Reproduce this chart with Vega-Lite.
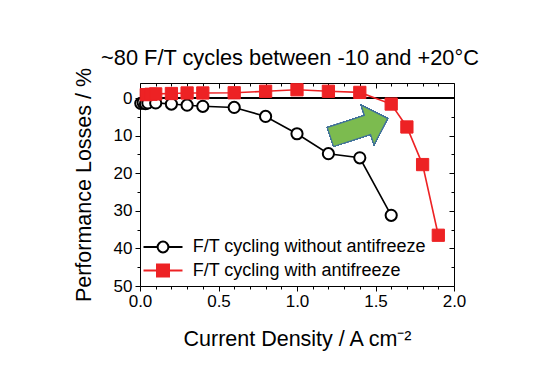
{
  "$schema": "https://vega.github.io/schema/vega-lite/v6.json",
  "autosize": {"type": "none"},
  "width": 314,
  "height": 203,
  "padding": {"left": 140, "top": 83, "right": 90, "bottom": 105},
  "background": "white",
  "title": {
    "text": "~80 F/T cycles between -10 and +20°C",
    "font": "Liberation Sans",
    "fontSize": 21.8,
    "fontWeight": "normal",
    "color": "black",
    "anchor": "middle",
    "dx": -7,
    "offset": -2
  },
  "data": {
    "values": [
      {"j": 0.005, "loss": 1.4, "series": "F/T cycling without antifreeze"},
      {"j": 0.02, "loss": 1.2, "series": "F/T cycling without antifreeze"},
      {"j": 0.035, "loss": 1.5, "series": "F/T cycling without antifreeze"},
      {"j": 0.05, "loss": 1.3, "series": "F/T cycling without antifreeze"},
      {"j": 0.1, "loss": 1.3, "series": "F/T cycling without antifreeze"},
      {"j": 0.2, "loss": 1.6, "series": "F/T cycling without antifreeze"},
      {"j": 0.3, "loss": 1.9, "series": "F/T cycling without antifreeze"},
      {"j": 0.4, "loss": 2.2, "series": "F/T cycling without antifreeze"},
      {"j": 0.6, "loss": 2.5, "series": "F/T cycling without antifreeze"},
      {"j": 0.8, "loss": 4.9, "series": "F/T cycling without antifreeze"},
      {"j": 1.0, "loss": 9.5, "series": "F/T cycling without antifreeze"},
      {"j": 1.2, "loss": 14.8, "series": "F/T cycling without antifreeze"},
      {"j": 1.4, "loss": 15.9, "series": "F/T cycling without antifreeze"},
      {"j": 1.6, "loss": 31.2, "series": "F/T cycling without antifreeze"},
      {"j": 0.04, "loss": -0.9, "series": "F/T cycling with antifreeze"},
      {"j": 0.07, "loss": -1.0, "series": "F/T cycling with antifreeze"},
      {"j": 0.1, "loss": -1.1, "series": "F/T cycling with antifreeze"},
      {"j": 0.2, "loss": -1.2, "series": "F/T cycling with antifreeze"},
      {"j": 0.3, "loss": -1.35, "series": "F/T cycling with antifreeze"},
      {"j": 0.4, "loss": -1.35, "series": "F/T cycling with antifreeze"},
      {"j": 0.6, "loss": -1.4, "series": "F/T cycling with antifreeze"},
      {"j": 0.8, "loss": -1.8, "series": "F/T cycling with antifreeze"},
      {"j": 1.0, "loss": -2.2, "series": "F/T cycling with antifreeze"},
      {"j": 1.2, "loss": -1.8, "series": "F/T cycling with antifreeze"},
      {"j": 1.4, "loss": -1.5, "series": "F/T cycling with antifreeze"},
      {"j": 1.6, "loss": 1.6, "series": "F/T cycling with antifreeze"},
      {"j": 1.7, "loss": 7.7, "series": "F/T cycling with antifreeze"},
      {"j": 1.8, "loss": 17.7, "series": "F/T cycling with antifreeze"},
      {"j": 1.9, "loss": 36.5, "series": "F/T cycling with antifreeze"}
    ]
  },
  "resolve": {"axis": {"x": "independent", "y": "independent"}},
  "layer": [
    {
      "mark": {"type": "rule", "color": "black", "strokeWidth": 1},
      "encoding": {
        "y": {"datum": 0, "type": "quantitative", "axis": null}
      }
    },
    {
      "mark": {"type": "line", "strokeWidth": 1.6},
      "encoding": {
        "x": {
          "field": "j", "type": "quantitative",
          "scale": {"domain": [0, 2], "nice": false, "zero": false},
          "axis": {
            "orient": "bottom",
            "title": "Current Density / A cm⁻²",
            "values": [0, 0.1, 0.2, 0.3, 0.4, 0.5, 0.6, 0.7, 0.8, 0.9, 1.0, 1.1, 1.2, 1.3, 1.4, 1.5, 1.6, 1.7, 1.8, 1.9, 2.0],
            "labelExpr": "abs(datum.value*2 - round(datum.value*2)) < 0.001 ? format(datum.value, '.1f') : ''",
            "tickSize": {"condition": {"test": "abs(datum.value*2 - round(datum.value*2)) < 0.001", "value": 5}, "value": 3},
            "labelPadding": 2,
            "titlePadding": 19,
            "labelFlush": false,
            "labelOverlap": false
          }
        },
        "y": {
          "field": "loss", "type": "quantitative",
          "scale": {"domain": [-4, 50], "nice": false, "zero": false, "reverse": true},
          "axis": {
            "orient": "left",
            "title": "Performance Losses / %",
            "values": [0, 5, 10, 15, 20, 25, 30, 35, 40, 45, 50],
            "labelExpr": "datum.value % 10 === 0 ? datum.label : ''",
            "tickSize": {"condition": {"test": "datum.value % 10 === 0", "value": 5}, "value": 3},
            "labelPadding": 3,
            "titlePadding": 18,
            "labelOverlap": false
          }
        },
        "stroke": {
          "field": "series", "type": "nominal",
          "scale": {
            "domain": ["F/T cycling without antifreeze", "F/T cycling with antifreeze"],
            "range": ["black", "#ed2224"]
          },
          "legend": {
            "title": null,
            "orient": "none",
            "legendX": 14,
            "legendY": 155,
            "padding": 0,
            "symbolSize": 144,
            "symbolStrokeWidth": 2,
            "labelOffset": 20.7,
            "labelLimit": 0,
            "rowPadding": 3.6,
            "labelFont": "Liberation Sans",
            "labelFontSize": 18,
            "labelColor": "black",
            "encode": {
              "symbols": {
                "update": {
                  "shape": {"signal": "datum.value === 'F/T cycling with antifreeze' ? 'M-3.25,0L3.25,0M-1,-1L1,-1L1,1L-1,1Z' : 'M-3.25,0L-0.9,0M0.9,0L3.25,0M0.9,0A0.9,0.9,0,1,1,-0.9,0A0.9,0.9,0,1,1,0.9,0Z'"},
                  "fill": {"signal": "datum.value === 'F/T cycling with antifreeze' ? '#ed2224' : 'white'"},
                  "fillOpacity": {"value": 1}
                }
              }
            }
          }
        }
      }
    },
    {
      "transform": [{"filter": "datum.series === 'F/T cycling without antifreeze'"}],
      "mark": {"type": "point", "shape": "circle", "filled": true, "fill": "white", "stroke": "black", "strokeWidth": 2, "size": 125, "opacity": 1},
      "encoding": {
        "x": {
          "field": "j", "type": "quantitative",
          "axis": {
            "orient": "top", "title": null, "labels": false,
            "values": [0, 0.1, 0.2, 0.3, 0.4, 0.5, 0.6, 0.7, 0.8, 0.9, 1.0, 1.1, 1.2, 1.3, 1.4, 1.5, 1.6, 1.7, 1.8, 1.9, 2.0],
            "tickSize": {"condition": {"test": "abs(datum.value*2 - round(datum.value*2)) < 0.001", "value": -5}, "value": -3}
          }
        },
        "y": {
          "field": "loss", "type": "quantitative",
          "axis": {
            "orient": "right", "title": null, "labels": false,
            "values": [0, 5, 10, 15, 20, 25, 30, 35, 40, 45, 50],
            "tickSize": {"condition": {"test": "datum.value % 10 === 0", "value": -5}, "value": -3}
          }
        }
      }
    },
    {
      "transform": [{"filter": "datum.series === 'F/T cycling with antifreeze'"}],
      "mark": {"type": "point", "shape": "square", "filled": true, "fill": "#ed2224", "stroke": "#ed2224", "strokeWidth": 1, "size": 150, "opacity": 1},
      "encoding": {
        "x": {"field": "j", "type": "quantitative", "axis": null},
        "y": {"field": "loss", "type": "quantitative", "axis": null}
      }
    },
    {
      "mark": {
        "type": "point",
        "shape": "M-1,-0.33L0.3,-0.33L0.3,-0.69L1,0L0.3,0.69L0.3,0.33L-1,0.33Z",
        "filled": true,
        "fill": "#7cbb4f",
        "stroke": "#41719c",
        "strokeWidth": 1,
        "size": 3600,
        "angle": -18,
        "opacity": 1
      },
      "encoding": {
        "x": {"datum": 1.395, "type": "quantitative", "axis": null},
        "y": {"datum": 7.9, "type": "quantitative", "axis": null}
      }
    }
  ],
  "config": {
    "view": {"stroke": null},
    "font": "Liberation Sans",
    "axis": {
      "grid": false,
      "domainColor": "black",
      "domainWidth": 1,
      "tickColor": "black",
      "tickWidth": 1,
      "labelColor": "black",
      "labelFont": "Liberation Sans",
      "labelFontSize": 17,
      "titleFont": "Liberation Sans",
      "titleFontSize": 21.5,
      "titleFontWeight": "normal",
      "titleColor": "black"
    }
  }
}
